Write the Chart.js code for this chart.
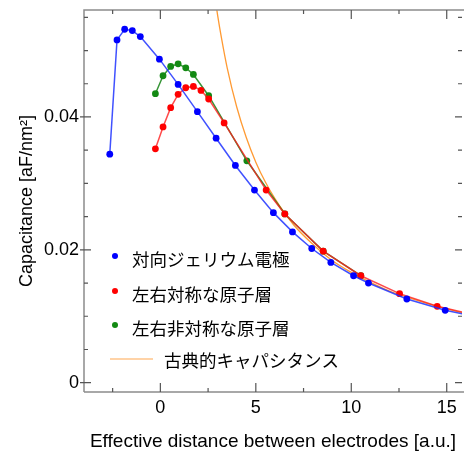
<!DOCTYPE html>
<html lang="ja">
<head>
    <meta charset="UTF-8">
    <title>Capacitance vs distance</title>
    <script src="https://cdn.jsdelivr.net/npm/chart.js"></script>
    <style>
        body { margin: 0; background: #fff; overflow: hidden; }
    </style>
</head>
<body>
    <canvas id="capChart" width="466" height="453"></canvas>

    <script>
        // series data
        var jelliumX = [-2.65, -2.27, -1.87, -1.47, -1.05, -0.05, 0.93, 1.94, 2.92, 3.93, 4.93, 5.92, 6.92, 7.93, 8.93, 10.12, 10.9, 12.91, 14.92, 16.9];
        var jelliumY = [0.0344, 0.0516, 0.0532, 0.0530, 0.0521, 0.0487, 0.0449, 0.0408, 0.0368, 0.0327, 0.0290, 0.0256, 0.0227, 0.0202, 0.0181, 0.0161, 0.0150, 0.0126, 0.0109, 0.0097];

        var symX = [-0.26, 0.14, 0.54, 0.93, 1.33, 1.73, 2.13, 2.53, 3.34, 5.54, 6.52, 8.53, 10.5, 12.53, 14.5, 16.5];
        var symY = [0.0352, 0.0385, 0.0414, 0.0434, 0.0444, 0.0446, 0.0440, 0.0427, 0.0391, 0.0290, 0.0254, 0.0198, 0.0161, 0.0134, 0.0115, 0.0102];

        var asymX = [-0.26, 0.14, 0.54, 0.93, 1.33, 1.73, 2.53, 4.53, 6.52, 8.53, 10.5];
        var asymY = [0.0435, 0.0462, 0.0476, 0.0480, 0.0474, 0.0464, 0.0432, 0.0334, 0.0254, 0.0198, 0.0161];

        var classicX = [2.85, 3.0, 3.2, 3.5, 4.0, 4.5, 5.0, 5.5, 6.0, 7.0, 8.0, 9.0, 10.0, 11.0, 12.0, 13.0, 14.0, 15.0, 16.0];
        var classicY = [0.0582, 0.0553, 0.0519, 0.0474, 0.0415, 0.0369, 0.0332, 0.0302, 0.0277, 0.0237, 0.0208, 0.0184, 0.0166, 0.0151, 0.0138, 0.0128, 0.0119, 0.0111, 0.0104];

        var seriesNames = ['対向ジェリウム電極', '左右対称な原子層', '左右非対称な原子層', '古典的キャパシタンス'];

        var xMajorTicks = [0, 5, 10, 15];
        var yMajorTicks = [0, 0.02, 0.04];

        function toPoints(xs, ys) {
            return xs.map(function (x, i) { return { x: x, y: ys[i] }; });
        }

        function isMajor(v, list) {
            return list.some(function (m) { return Math.abs(v - m) < 1e-9; });
        }

        var latin = '"Liberation Sans", Arial, sans-serif';
        var jp = '"Noto Sans CJK JP", sans-serif';
        var axisColor = '#8c8c8c';

        // frame + inward ticks
        var framePlugin = {
            id: 'frame',
            afterDraw: function (chart) {
                var ctx = chart.ctx, a = chart.chartArea;
                var xs = chart.scales.x, ys = chart.scales.y;
                ctx.save();
                ctx.strokeStyle = axisColor;
                ctx.lineWidth = 1.5;
                ctx.beginPath();
                ctx.moveTo(a.left, a.bottom);
                ctx.lineTo(a.left, a.top);
                ctx.lineTo(a.right + 2, a.top);
                ctx.moveTo(a.left, a.bottom);
                ctx.lineTo(a.right + 2, a.bottom);
                ctx.stroke();

                ctx.lineWidth = 1.2;
                ctx.strokeStyle = '#555';
                xs.ticks.forEach(function (t) {
                    var v = t.value;
                    if (Math.abs(v / 2.5 - Math.round(v / 2.5)) > 1e-6) return;
                    var px = xs.getPixelForValue(v);
                    var len = isMajor(v, xMajorTicks) ? 9 : 4;
                    ctx.beginPath();
                    ctx.moveTo(px, a.bottom);
                    ctx.lineTo(px, a.bottom - len);
                    ctx.moveTo(px, a.top);
                    ctx.lineTo(px, a.top + len);
                    ctx.stroke();
                });
                ys.ticks.forEach(function (t) {
                    var v = t.value;
                    if (Math.abs(v / 0.005 - Math.round(v / 0.005)) > 1e-6) return;
                    var py = ys.getPixelForValue(v);
                    var major = isMajor(v, yMajorTicks);
                    var len = major ? 7 : 4;
                    ctx.beginPath();
                    ctx.moveTo(major ? a.left - 4 : a.left, py);
                    ctx.lineTo(a.left + len, py);
                    ctx.moveTo(a.right, py);
                    ctx.lineTo(a.right - len, py);
                    ctx.stroke();
                });
                ctx.restore();
            }
        };

        // legend drawn inside the plot area
        var innerLegend = {
            id: 'innerLegend',
            afterDraw: function (chart) {
                var ctx = chart.ctx, a = chart.chartArea;
                var rows = [a.top + 249, a.top + 284, a.top + 318, a.top + 350];
                ctx.save();
                ctx.font = '17.5px ' + jp;
                ctx.textBaseline = 'middle';
                ctx.fillStyle = '#000';
                chart.data.datasets.forEach(function (ds, i) {
                    var y = rows[i];
                    if (i < 3) {
                        ctx.beginPath();
                        ctx.arc(a.left + 31, y - 3, 3, 0, Math.PI * 2);
                        ctx.fillStyle = ds.pointBackgroundColor;
                        ctx.fill();
                        ctx.fillStyle = '#000';
                        ctx.fillText(ds.label, a.left + 48, y);
                    } else {
                        ctx.strokeStyle = '#ffc48a';
                        ctx.lineWidth = 1.5;
                        ctx.beginPath();
                        ctx.moveTo(a.left + 26, y - 1);
                        ctx.lineTo(a.left + 69, y - 1);
                        ctx.stroke();
                        ctx.fillText(ds.label, a.left + 80, y);
                    }
                });
                ctx.restore();
            }
        };

        var ctx = document.getElementById('capChart').getContext('2d');

        var capChart = new Chart(ctx, {
            type: 'scatter',
            data: {
                datasets: [{
                    label: seriesNames[0],
                    data: toPoints(jelliumX, jelliumY),
                    showLine: true,
                    borderColor: 'rgba(30, 50, 255, 0.85)',
                    borderWidth: 1.5,
                    pointBackgroundColor: '#0000ff',
                    pointBorderWidth: 0,
                    pointRadius: 3.4,
                    clip: 0
                }, {
                    label: seriesNames[1],
                    data: toPoints(symX, symY),
                    showLine: true,
                    borderColor: 'rgba(255, 30, 30, 0.8)',
                    borderWidth: 1.5,
                    pointBackgroundColor: '#ff0000',
                    pointBorderWidth: 0,
                    pointRadius: 3.4,
                    clip: 0
                }, {
                    label: seriesNames[2],
                    data: toPoints(asymX, asymY),
                    showLine: true,
                    borderColor: 'rgba(20, 130, 20, 0.85)',
                    borderWidth: 1.5,
                    pointBackgroundColor: '#138a13',
                    pointBorderWidth: 0,
                    pointRadius: 3.4,
                    clip: 0
                }, {
                    label: seriesNames[3],
                    data: toPoints(classicX, classicY),
                    showLine: true,
                    borderColor: '#ff9a33',
                    borderWidth: 1.3,
                    pointRadius: 0,
                    cubicInterpolationMode: 'monotone',
                    clip: 0
                }]
            },
            options: {
                responsive: false,
                animation: false,
                layout: { padding: { top: 10, right: 0, left: 0, bottom: 0 } },
                plugins: {
                    legend: { display: false },
                    tooltip: { enabled: false }
                },
                scales: {
                    x: {
                        type: 'linear',
                        min: -4,
                        max: 15.8,
                        grid: { display: false, drawTicks: false },
                        border: { display: false },
                        ticks: {
                            stepSize: 2.5,
                            includeBounds: false,
                            autoSkip: false,
                            maxRotation: 0,
                            padding: 5,
                            color: '#000',
                            font: { family: latin, size: 18 },
                            callback: function (v) { return isMajor(v, xMajorTicks) ? String(v) : ''; }
                        },
                        title: {
                            display: true,
                            text: 'Effective distance between electrodes [a.u.]',
                            color: '#000',
                            font: { family: latin, size: 19 },
                            padding: { top: 9, bottom: 0 }
                        },
                        afterFit: function (scale) {
                            scale.height = 61;
                            scale.paddingLeft = 0;
                            scale.paddingRight = 0;
                        }
                    },
                    y: {
                        type: 'linear',
                        min: -0.0014,
                        max: 0.0561,
                        grid: { display: false, drawTicks: false },
                        border: { display: false },
                        ticks: {
                            stepSize: 0.005,
                            includeBounds: false,
                            autoSkip: false,
                            padding: 5,
                            color: '#000',
                            font: { family: latin, size: 18 },
                            callback: function (v) {
                                if (!isMajor(v, yMajorTicks)) return '';
                                return v === 0 ? '0' : v.toFixed(2);
                            }
                        },
                        title: {
                            display: true,
                            text: 'Capacitance [aF/nm²]',
                            color: '#000',
                            font: { family: latin, size: 18 },
                            padding: { top: 16, bottom: 0 }
                        },
                        afterFit: function (scale) {
                            scale.width = 84;
                            scale.paddingTop = 0;
                            scale.paddingBottom = 0;
                        }
                    }
                }
            },
            plugins: [framePlugin, innerLegend]
        });
    </script>
</body>
</html>
